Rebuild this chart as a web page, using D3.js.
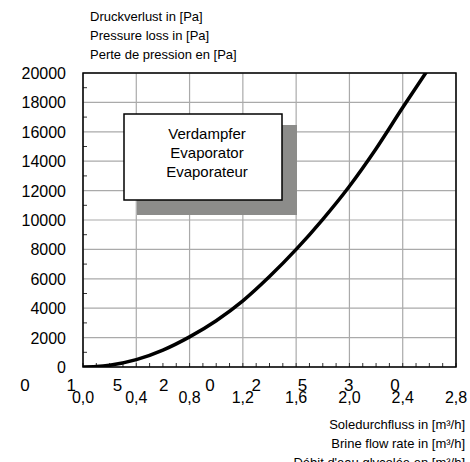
<!DOCTYPE html>
<html><head><meta charset="utf-8">
<script src="https://cdn.jsdelivr.net/npm/d3@7"></script>
<style>body{margin:0;background:#fff}text{font-family:"Liberation Sans",Arial,sans-serif}</style>
</head><body><div id="chart"></div>
<script>
var flow = [0, 0.1, 0.2, 0.4, 0.6, 0.8, 1.0, 1.2, 1.4, 1.6, 1.8, 2.0, 2.2, 2.4, 2.58];
var loss = [0, 30, 120, 500, 1150, 2050, 3150, 4500, 6150, 8000, 10050, 12300, 14850, 17650, 20100];
var xTicks = [0, 0.4, 0.8, 1.2, 1.6, 2.0, 2.4, 2.8];
var yTicks = d3.range(0, 20001, 2000);
var strayLabels = ["0", "1", "5", "2", "0", "2", "5", "3", "0"];
var titleLines = ["Druckverlust in [Pa]", "Pressure loss in [Pa]", "Perte de pression en [Pa]"];
var xLabelLines = ["Soledurchfluss in [m\u00b3/h]", "Brine flow rate in [m\u00b3/h]", "D\u00e9bit d'eau glycol\u00e9e en [m\u00b3/h]"];
var boxLines = ["Verdampfer", "Evaporator", "Evaporateur"];

var W = 470, H = 462;
var svg = d3.select("#chart").append("svg").attr("width", W).attr("height", H);
var x = d3.scaleLinear().domain([0, 2.8]).range([83, 456]);
var y = d3.scaleLinear().domain([0, 20000]).range([367, 73]);
var fmt = function (d) { return d3.format(".1f")(d).replace(".", ","); };

// grid
svg.append("g").selectAll("line").data(xTicks).enter().append("line")
  .attr("x1", d => x(d)).attr("x2", d => x(d)).attr("y1", y(0)).attr("y2", y(20000))
  .attr("stroke", "#aaa").attr("stroke-width", 1.2);
svg.append("g").selectAll("line").data(yTicks).enter().append("line")
  .attr("x1", x(0)).attr("x2", x(2.8)).attr("y1", d => y(d)).attr("y2", d => y(d))
  .attr("stroke", "#aaa").attr("stroke-width", 1.2);

// minor ticks
svg.append("g").selectAll("line").data(d3.range(0, 2.801, 0.1)).enter().append("line")
  .attr("x1", d => x(d)).attr("x2", d => x(d)).attr("y1", y(0)).attr("y2", y(0) - 4)
  .attr("stroke", "#333");
svg.append("g").selectAll("line").data(d3.range(1000, 20000, 2000)).enter().append("line")
  .attr("x1", x(0)).attr("x2", x(0) + 4).attr("y1", d => y(d)).attr("y2", d => y(d))
  .attr("stroke", "#333");

svg.append("rect").attr("x", x(0)).attr("y", y(20000))
  .attr("width", x(2.8) - x(0)).attr("height", y(0) - y(20000))
  .attr("fill", "none").attr("stroke", "#000").attr("stroke-width", 1.5);

// labels
svg.append("g").selectAll("text").data(yTicks).enter().append("text")
  .attr("x", 66).attr("y", d => y(d) + 6).attr("text-anchor", "end")
  .style("font-size", "16px").text(d => d);
svg.append("g").selectAll("text").data(xTicks).enter().append("text")
  .attr("x", d => x(d)).attr("y", 403).attr("text-anchor", "middle")
  .style("font-size", "16px").text(fmt);
var sx = d3.scaleLinear().domain([0, strayLabels.length - 1]).range([25, 395]);
svg.append("g").selectAll("text").data(strayLabels).enter().append("text")
  .attr("x", (d, i) => sx(i)).attr("y", 391).attr("text-anchor", "middle")
  .style("font-size", "17px").text(d => d);

svg.append("g").selectAll("text").data(titleLines).enter().append("text")
  .attr("x", 90).attr("y", (d, i) => 21 + i * 19).style("font-size", "13px").text(d => d);
svg.append("g").selectAll("text").data(xLabelLines).enter().append("text")
  .attr("x", 465).attr("y", (d, i) => 429 + i * 19).attr("text-anchor", "end")
  .style("font-size", "13px").text(d => d);

// legend box
svg.append("rect").attr("x", 137).attr("y", 125).attr("width", 160).attr("height", 90).attr("fill", "#8c8c8a");
svg.append("rect").attr("x", 124).attr("y", 114).attr("width", 158).attr("height", 86)
  .attr("fill", "#fff").attr("stroke", "#000").attr("stroke-width", 1.5);
svg.append("g").selectAll("text").data(boxLines).enter().append("text")
  .attr("x", 207).attr("y", (d, i) => 139 + i * 19).attr("text-anchor", "middle")
  .style("font-size", "15px").text(d => d);

// curve
svg.append("defs").append("clipPath").attr("id", "c").append("rect")
  .attr("x", x(0)).attr("y", y(20000)).attr("width", x(2.8) - x(0)).attr("height", y(0) - y(20000));
svg.append("path").datum(flow.map((f, i) => [f, loss[i]]))
  .attr("clip-path", "url(#c)")
  .attr("fill", "none").attr("stroke", "#000").attr("stroke-width", 3.5)
  .attr("d", d3.line().x(d => x(d[0])).y(d => y(d[1])).curve(d3.curveMonotoneX));
</script></body></html>
